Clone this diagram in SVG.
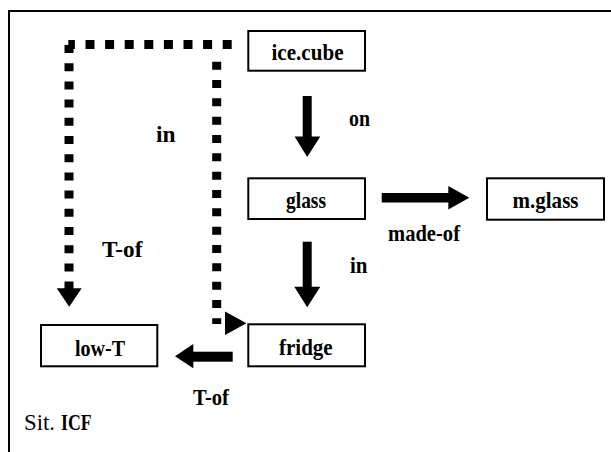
<svg xmlns="http://www.w3.org/2000/svg" width="611" height="452" viewBox="0 0 611 452">
  <style>
    .frame { fill: none; stroke: #000; stroke-width: 2; }
    .box { fill: #fff; stroke: #000; stroke-width: 2; }
    text { font-family: "Liberation Serif", "Times New Roman", serif; font-size: 23px; fill: #000; }
    .lbl { font-weight: bold; }
    .solid { fill: #000; stroke: none; }
    .dot { fill: none; stroke: #000; stroke-width: 9; }
  </style>
  <rect width="611" height="452" fill="#fff"/>
  <!-- open frame: left and top sides only -->
  <path class="frame" d="M9,452 V11 H611"/>

  <g id="connectors">
    <!-- dotted link along the top and down to low-T -->
    <path class="dot" d="M231.7,44.5 H68.3" stroke-dasharray="9 10.6"/>
    <path class="dot" d="M69,45 V289" stroke-width="8.3" stroke-dasharray="8 10.2"/>
    <polygon class="solid" points="56.7,288.3 81.7,288.3 69.2,306.7"/>
    <!-- dotted link down to fridge -->
    <path class="dot" d="M216.7,61.7 V324" stroke-width="9.5" stroke-dasharray="8 10.33"/>
    <polygon class="solid" points="225,311.5 225,335 246.5,323.2"/>
    <!-- ice.cube -> glass -->
    <rect class="solid" x="302.7" y="96" width="9" height="41"/>
    <polygon class="solid" points="294.6,136.5 320.3,136.5 307.2,157"/>
    <!-- glass -> fridge -->
    <rect class="solid" x="302.7" y="241.7" width="9" height="46"/>
    <polygon class="solid" points="294.3,286.7 320.3,286.7 307.2,307.3"/>
    <!-- glass -> m.glass -->
    <rect class="solid" x="381.7" y="193" width="67.5" height="9.5"/>
    <polygon class="solid" points="448.3,186 448.3,209.5 469.3,197.7"/>
    <!-- fridge -> low-T -->
    <rect class="solid" x="192.5" y="351.7" width="40.2" height="10"/>
    <polygon class="solid" points="193.3,344 193.3,368.3 175,356.2"/>

    <text class="lbl" x="349" y="126" textLength="21" lengthAdjust="spacingAndGlyphs">on</text>
    <text class="lbl" x="156" y="141.7" textLength="19.5" lengthAdjust="spacingAndGlyphs">in</text>
    <text class="lbl" x="388" y="240.5" textLength="72" lengthAdjust="spacingAndGlyphs">made-of</text>
    <text class="lbl" x="350" y="273.3" textLength="17.5" lengthAdjust="spacingAndGlyphs">in</text>
    <text class="lbl" x="102" y="257" textLength="40.5" lengthAdjust="spacingAndGlyphs">T-of</text>
    <text class="lbl" x="193" y="405" textLength="36" lengthAdjust="spacingAndGlyphs">T-of</text>
  </g>

  <g id="ice-cube">
    <rect class="box" x="248.3" y="31" width="116.7" height="39.7"/>
    <text class="lbl" x="271.5" y="60" textLength="72" lengthAdjust="spacingAndGlyphs">ice.cube</text>
  </g>
  <g id="glass">
    <rect class="box" x="248.3" y="178.3" width="116.7" height="40.7"/>
    <text class="lbl" x="286" y="208" textLength="40" lengthAdjust="spacingAndGlyphs">glass</text>
  </g>
  <g id="m-glass">
    <rect class="box" x="487" y="178.3" width="117" height="41.4"/>
    <text class="lbl" x="512.5" y="208" textLength="66" lengthAdjust="spacingAndGlyphs">m.glass</text>
  </g>
  <g id="fridge">
    <rect class="box" x="248.3" y="324.3" width="116.7" height="42"/>
    <text class="lbl" x="279" y="355" textLength="53.7" lengthAdjust="spacingAndGlyphs">fridge</text>
  </g>
  <g id="low-T">
    <rect class="box" x="41" y="325" width="116.3" height="41.3"/>
    <text class="lbl" x="75" y="356" textLength="50" lengthAdjust="spacingAndGlyphs">low-T</text>
  </g>

  <!-- situation caption -->
  <g id="caption">
    <text x="24" y="430" textLength="31" lengthAdjust="spacingAndGlyphs">Sit.</text>
    <text class="lbl" x="61" y="430" textLength="30.7" lengthAdjust="spacingAndGlyphs">ICF</text>
  </g>
</svg>
